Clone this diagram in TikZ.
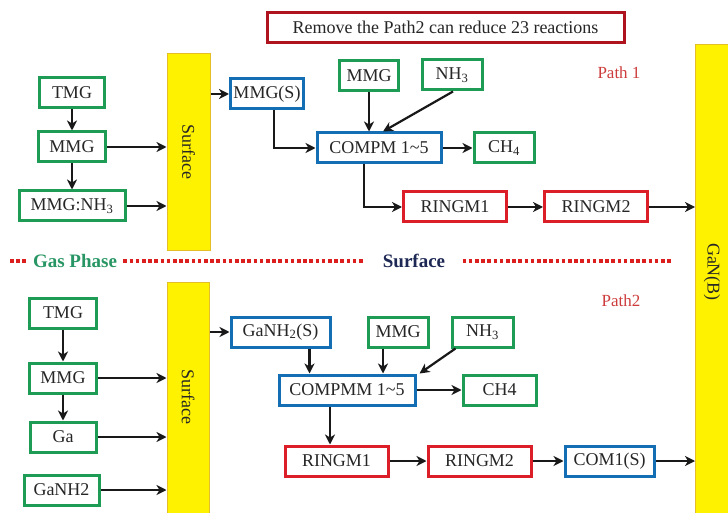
\documentclass[tikz,border=0pt]{standalone}
\usepackage{fontspec}
\setmainfont{Liberation Serif}
\usetikzlibrary{arrows.meta, positioning, calc}
\definecolor{boxgreen}{RGB}{30,155,85}
\definecolor{boxblue}{RGB}{20,110,180}
\definecolor{boxred}{RGB}{220,30,40}
\definecolor{titlered}{RGB}{175,20,30}
\definecolor{barfill}{RGB}{255,242,0}
\definecolor{barline}{RGB}{228,190,40}
\definecolor{gasgreen}{RGB}{40,150,100}
\definecolor{navy}{RGB}{30,40,85}
\definecolor{pathred}{RGB}{205,60,60}
\definecolor{dotred}{RGB}{220,30,30}

\begin{document}
\begin{tikzpicture}[
    x=1pt, y=-1pt,
    >={Stealth[length=10pt,width=10pt,inset=3pt]},
    box/.style={draw, line width=3pt, fill=white, minimum height=30pt,
                inner xsep=3pt, text=black!85,
                font=\fontsize{18}{20}\selectfont},
    gbox/.style={box, draw=boxgreen},
    bbox/.style={box, draw=boxblue},
    rbox/.style={box, draw=boxred},
    bar/.style={draw=barline, line width=1pt, fill=barfill},
    barlbl/.style={rotate=-90, text=black!85, font=\fontsize{18}{20}\selectfont},
    pathlbl/.style={text=pathred, font=\fontsize{17}{19}\selectfont},
    divlbl/.style={font=\fontsize{19}{21}\selectfont\bfseries},
    divider/.style={draw=dotred, line width=3.4pt,
                    dash pattern=on 3.6pt off 2.6pt},
    link/.style={->, line width=2.2pt, black!90}
  ]
  \useasboundingbox (0,0) rectangle (728,513);

  % Title
  \node[box, draw=titlered, minimum width=357pt] (title) at (445.5,27.5)
    {Remove the Path2 can reduce 23 reactions};

  % Bulk bar on the right
  \fill[barfill] (695,45) rectangle (740,520);
  \draw[barline, line width=1pt] (740,45) -- (695,45) -- (695,520);
  \node[barlbl] (gan) at (712,272) {GaN(B)};
  \coordinate (ganw) at (695,272);

  % Path 1: gas phase
  \node[gbox, minimum width=65pt] (tmga) at (72,93) {TMG};
  \node[gbox, minimum width=67pt] (mmga) at (72,147) {MMG};
  \node[gbox, minimum width=106pt] (addA) at (72,206) {MMG:NH\textsubscript{3}};
  \node[bar, minimum width=43pt, minimum height=196pt] (surfa) at (188.5,152) {};
  \node[barlbl] at (surfa.center) {Surface};

  % Path 1: surface
  \node[bbox, minimum width=72pt] (mmgsa) at (267,94) {MMG(S)};
  \node[gbox, minimum width=59pt] (mmgb) at (369,76) {MMG};
  \node[gbox, minimum width=60pt] (nha) at (452,75) {NH\textsubscript{3}};
  \node[bbox, minimum width=124pt] (compa) at (379,148) {COMPM 1\textasciitilde5};
  \node[gbox, minimum width=60pt] (cha) at (504,148) {CH\textsubscript{4}};
  \node[rbox, minimum width=103pt] (ringa1) at (455,207) {RINGM1};
  \node[rbox, minimum width=103pt] (ringa2) at (596,207) {RINGM2};
  \node[pathlbl] (path1) at (619,73) {Path 1};

  \draw[link] (tmga) -- (mmga);
  \draw[link] (mmga) -- (addA);
  \draw[link] (mmga.east) -- (mmga.east -| surfa.west);
  \draw[link] (addA.east) -- (addA.east -| surfa.west);
  \draw[link] (surfa.east |- mmgsa.west) -- (mmgsa.west);
  \draw[link] ([xshift=7pt]mmgsa.south) |- (compa.west);
  \draw[link] (mmgb.south) -- (mmgb.south |- compa.north);
  \draw[link] ([xshift=1pt]nha.south) -- ([xshift=4pt]compa.north);
  \draw[link] (compa) -- (cha);
  \draw[link] ([xshift=-15pt]compa.south) |- (ringa1.west);
  \draw[link] (ringa1) -- (ringa2);
  \draw[link] (ringa2.east) -- (ringa2.east -| ganw);

  % Divider between gas phase and surface
  \node[divlbl, text=gasgreen] (gaslbl) at (75,261) {Gas Phase};
  \node[divlbl, text=navy] (surflbl) at (414,261) {Surface};
  \draw[divider] (10,261) -- ([xshift=-4pt]gaslbl.west);
  \draw[divider] ([xshift=3pt]gaslbl.east) -- ([xshift=-16pt]surflbl.west);
  \draw[divider] ([xshift=14pt]surflbl.east) -- (673,261);

  % Path 2: gas phase
  \node[gbox, minimum width=67pt] (tmgb) at (63,313) {TMG};
  \node[gbox, minimum width=67pt] (mmgc) at (63,378) {MMG};
  \node[gbox, minimum width=66pt] (gab) at (63,437) {Ga};
  \node[gbox, minimum width=75pt] (ganhb) at (61.5,490) {GaNH2};
  \node[bar, minimum width=42pt, minimum height=240pt] (surfb) at (188,402) {};
  \node[barlbl] at (188,397) {Surface};

  % Path 2: surface
  \node[bbox, minimum width=99pt] (ganhs) at (280.5,332) {GaNH\textsubscript{2}(S)};
  \node[gbox, minimum width=60pt] (mmgd) at (398,332) {MMG};
  \node[gbox, minimum width=61pt] (nhb) at (482.5,332) {NH\textsubscript{3}};
  \node[bbox, minimum width=136pt] (compb) at (347,390) {COMPMM 1\textasciitilde5};
  \node[gbox, minimum width=73pt] (chb) at (499.5,390) {CH4};
  \node[rbox, minimum width=103pt] (ringb1) at (336.5,461) {RINGM1};
  \node[rbox, minimum width=103pt] (ringb2) at (479.5,461) {RINGM2};
  \node[bbox, minimum width=89pt] (comb) at (609.5,461) {COM1(S)};
  \node[pathlbl] (path2) at (621,301) {Path2};

  \draw[link] (tmgb) -- (mmgc);
  \draw[link] (mmgc) -- (gab);
  \draw[link] (mmgc.east) -- (mmgc.east -| surfb.west);
  \draw[link] (gab.east) -- (gab.east -| surfb.west);
  \draw[link] (ganhb.east) -- (ganhb.east -| surfb.west);
  \draw[link] (surfb.east |- ganhs.west) -- (ganhs.west);
  \draw[link] ([xshift=29pt]ganhs.south) -- ([xshift=29pt]ganhs.south |- compb.north);
  \draw[link] ([xshift=-15pt]mmgd.south) -- ([xshift=-15pt]mmgd.south |- compb.north);
  \draw[link] ([xshift=-27pt]nhb.south) -- ([xshift=3pt]compb.north east);
  \draw[link] (compb) -- (chb);
  \draw[link] ([xshift=-17pt]compb.south) -- ([xshift=-17pt]compb.south |- ringb1.north);
  \draw[link] (ringb1) -- (ringb2);
  \draw[link] (ringb2) -- (comb);
  \draw[link] (comb.east) -- (comb.east -| ganw);
\end{tikzpicture}
\end{document}
